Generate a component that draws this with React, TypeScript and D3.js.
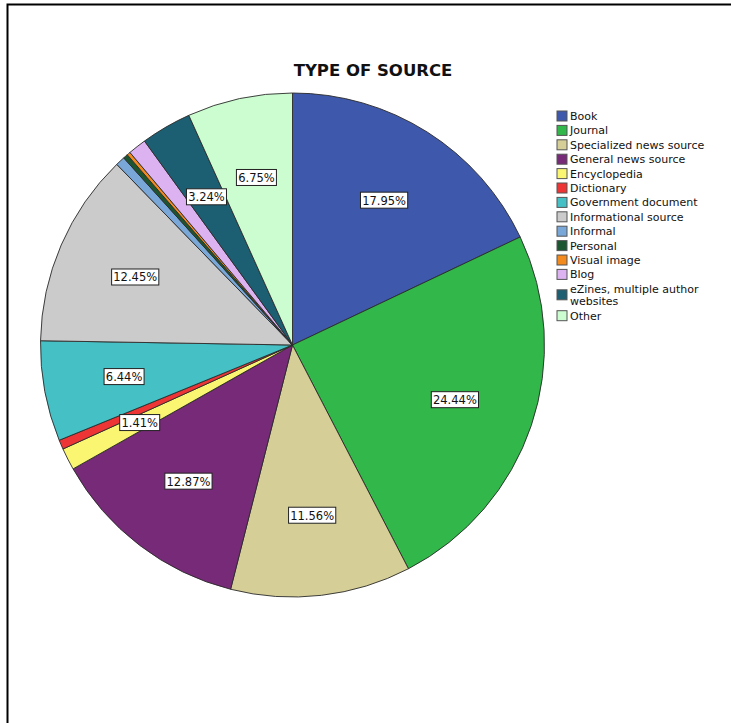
import React from "react";
import * as d3 from "d3";

const categories = [
  "Book",
  "Journal",
  "Specialized news source",
  "General news source",
  "Encyclopedia",
  "Dictionary",
  "Government document",
  "Informational source",
  "Informal",
  "Personal",
  "Visual image",
  "Blog",
  "eZines, multiple author websites",
  "Other",
];
const legendLines = [
  ["Book"],
  ["Journal"],
  ["Specialized news source"],
  ["General news source"],
  ["Encyclopedia"],
  ["Dictionary"],
  ["Government document"],
  ["Informational source"],
  ["Informal"],
  ["Personal"],
  ["Visual image"],
  ["Blog"],
  ["eZines, multiple author", "websites"],
  ["Other"],
];
const values = [17.95, 24.44, 11.56, 12.87, 1.41, 0.6, 6.44, 12.45, 0.6, 0.3, 0.22, 1.17, 3.24, 6.75];
const showLabel = [true, true, true, true, true, false, true, true, false, false, false, false, true, true];
const colors = [
  "#3e58ac",
  "#31b74a",
  "#d5ce97",
  "#772a77",
  "#fbf672",
  "#ee3535",
  "#45c0c5",
  "#cbcbcb",
  "#79a7d8",
  "#1b5631",
  "#f28a1d",
  "#dcb3f0",
  "#1c5f72",
  "#ccfdd0",
];
const title = "TYPE OF SOURCE";

export default function App() {
  const W = 731;
  const H = 723;
  const cx = 292.5;
  const cy = 345;
  const R = 252;
  const pie = d3.pie<number>().sort(null).value((d) => d);
  const arcs = pie(values);
  const arc = d3.arc<d3.PieArcDatum<number>>().innerRadius(0).outerRadius(R);
  const labelArc = d3.arc<d3.PieArcDatum<number>>().innerRadius(R * 0.68).outerRadius(R * 0.68);
  const font = "'DejaVu Sans', Verdana, sans-serif";

  // legend layout
  const lx = 557;
  let ly = 110;
  const rowH = 14.4;
  const lineH = 12.5;
  const legendItems = legendLines.map((lines, i) => {
    const top = ly;
    ly += rowH + (lines.length - 1) * lineH;
    return { lines, i, top };
  });

  return (
    <div style={{ position: "absolute", left: 0, top: 0, width: W, height: H }}>
      <svg width={W} height={H} style={{ display: "block" }}>
        <rect x={0} y={0} width={W} height={H} fill="#fff" />
        <path d={`M7.5,${H} L7.5,4.5 L${W},4.5`} fill="none" stroke="#000" strokeWidth={2} />
        <text x={373} y={76} textAnchor="middle" fontFamily={font} fontWeight="bold" fontSize={16.5} fill="#111">
          {title}
        </text>
        <g transform={`translate(${cx},${cy})`}>
          {arcs.map((a, i) => (
            <path key={i} d={arc(a) || ""} fill={colors[i]} stroke="#2a2a2a" strokeWidth={0.9} />
          ))}
          {arcs.map((a, i) => {
            if (!showLabel[i]) return null;
            const [x, y] = labelArc.centroid(a);
            const txt = values[i].toFixed(2) + "%";
            const w = txt.length * 7.2 + 4;
            return (
              <g key={"l" + i} transform={`translate(${x},${y})`}>
                <rect x={-w / 2} y={-8} width={w} height={16} fill="#fff" stroke="#222" strokeWidth={1} />
                <text x={0} y={4.5} textAnchor="middle" fontFamily={font} fontSize={11.5} fill="#111">
                  {txt}
                </text>
              </g>
            );
          })}
        </g>
        <g>
          {legendItems.map(({ lines, i, top }) => {
            const sy = lines.length > 1 ? top + 6 : top;
            return (
              <g key={"g" + i}>
                <rect x={lx} y={sy + 1} width={10} height={10} fill={colors[i]} stroke="#555" strokeWidth={1} />
                {lines.map((t, k) => (
                  <text key={k} x={lx + 13} y={top + 10 + k * lineH} fontFamily={font} fontSize={11} fill="#111">
                    {t}
                  </text>
                ))}
              </g>
            );
          })}
        </g>
      </svg>
    </div>
  );
}
